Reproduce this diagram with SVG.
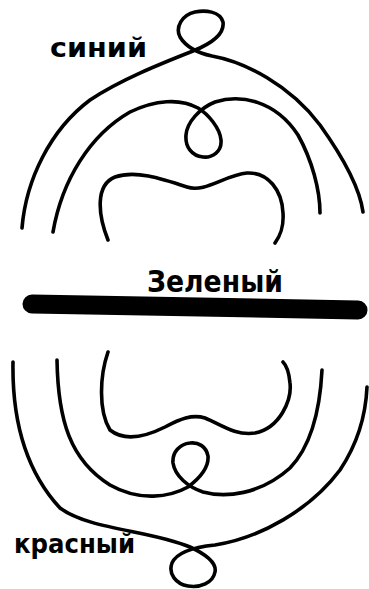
<svg xmlns="http://www.w3.org/2000/svg" width="369" height="589" viewBox="0 0 369 589">
<style>
.s{fill:none;stroke:#000;stroke-width:3.6;stroke-linecap:round;stroke-linejoin:round}
.t{font-family:"DejaVu Sans","Liberation Sans",sans-serif;font-weight:bold;fill:#000}
</style>
<rect width="369" height="589" fill="#fff"/>
<g id="blue">
<path class="s" d="M22,228 C26,180 50,130 90,100 C120,80 160,64 193,51 C208,45 225,36 223,22 C220,11 205,10 195,12 C182,15 175,27 180,37 C186,47 198,53 212,56 C245,62 290,85 320,125 C345,160 360,190 363,212"/>
<path class="s" d="M53,232 C62,180 90,135 130,112 C155,100 180,98 198,108 C208,114 220,128 221,140 C222,152 212,158 203,157 C192,156 185,147 186,135 C187,122 200,108 215,102 C240,94 275,100 298,135 C312,160 320,190 320,213"/>
<path class="s" d="M108,240 C98,215 95,185 115,177 C135,170 160,178 187,187 C205,193 225,175 247,173 C268,172 282,190 283,213 C284,228 280,236 275,243"/>
<text class="t" x="50" y="57" font-size="27" textLength="97" lengthAdjust="spacingAndGlyphs">синий</text>
</g>
<g id="green">
<path d="M32,304 L358,310" fill="none" stroke="#000" stroke-width="19" stroke-linecap="round"/>
<text class="t" x="147" y="292" font-size="30" textLength="136" lengthAdjust="spacingAndGlyphs">Зеленый</text>
</g>
<g id="red">
<path class="s" d="M13,362 C12,420 25,470 60,508 C90,530 150,530 190,547 C203,553 217,562 215,572 C213,583 200,588 188,586 C176,584 168,574 172,563 C177,552 195,547 215,545 C260,538 310,510 340,470 C360,440 366,410 367,387"/>
<path class="s" d="M57,360 C58,420 70,460 110,485 C140,502 170,497 188,487 C200,478 209,467 208,456 C206,446 198,442 190,443 C180,444 172,452 173,463 C175,476 188,487 203,492 C225,498 260,495 290,468 C312,445 320,410 322,370"/>
<path class="s" d="M108,352 C100,375 98,410 110,430 C125,442 145,437 165,427 C180,419 192,414 205,418 C220,424 235,436 255,433 C280,428 292,400 290,383 C289,372 287,366 283,362"/>
<text class="t" x="14" y="553" font-size="27" textLength="121" lengthAdjust="spacingAndGlyphs">красный</text>
</g>
</svg>
